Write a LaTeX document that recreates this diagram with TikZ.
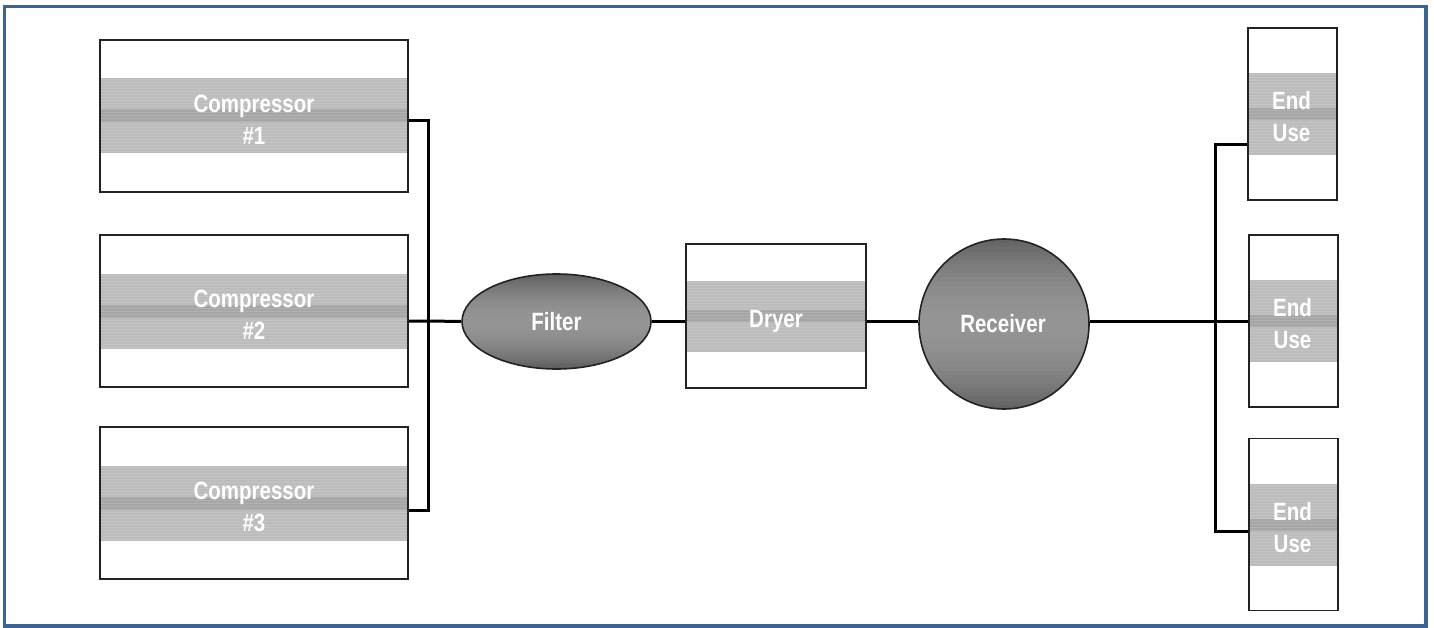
\documentclass[tikz,border=0pt]{standalone}
\usepackage{fontspec}
\newfontfamily\lblfont{Liberation Sans}[FakeStretch=0.82]
\usetikzlibrary{shapes.geometric,calc}
\definecolor{frameblue}{HTML}{3B6496}
\definecolor{bandgray}{HTML}{BCBCBC}
\definecolor{stripgray}{HTML}{A6A6A6}
\definecolor{edgegray}{HTML}{222222}
\begin{document}
\begin{tikzpicture}[x=1pt,y=-1pt,
  lbl/.style={text=white, font=\lblfont\bfseries\fontsize{25}{32}\selectfont, align=center},
  unitbox/.style n args={4}{draw=edgegray, line width=1.6pt, inner sep=0pt,
     minimum width=#1, minimum height=#2,
     path picture={
       \fill[bandgray] ([yshift=#3]path picture bounding box.west) rectangle ([yshift=-#3]path picture bounding box.east);
       \fill[stripgray] ([yshift=#4]path picture bounding box.west) rectangle ([yshift=-#4]path picture bounding box.east);
       \pgfmathtruncatemacro{\nn}{floor(2*#3/3)}
       \foreach \k in {1,...,\nn}{
         \pgfmathsetmacro{\ys}{#3-3*\k+1.5}
         \draw[white, opacity=0.13, line width=1pt]
           ([yshift=\ys pt]path picture bounding box.west) -- ([yshift=\ys pt]path picture bounding box.east);
       }
     }},
  compbox/.style={unitbox={308pt}{152pt}{37.5pt}{6.5pt}},
  usebox/.style={unitbox={89pt}{172pt}{41pt}{6pt}},
  dryerbox/.style={unitbox={180pt}{144pt}{35.5pt}{6pt}},
  % vertical gray gradient: #1 = light level (black!), #2 = extra darkness at the edges
  metal/.style 2 args={draw=edgegray, line width=1.6pt,
     path picture={
       \foreach \i in {0,...,39}{
         \pgfmathsetmacro{\ta}{\i/40}
         \pgfmathsetmacro{\tb}{(\i+1)/40+0.002}
         \pgfmathsetmacro{\pp}{#1+#2*abs(2*(\i+0.5)/40-1)^2}
         \fill[black!\pp]
           ($(path picture bounding box.north west)!\ta!(path picture bounding box.south west)$)
           rectangle
           ($(path picture bounding box.north east)!\tb!(path picture bounding box.south east)$);
       }
     }},
  pipe/.style={draw=black, line width=3pt},
]
\useasboundingbox (0,0) rectangle (1434,628);
\draw[frameblue, line width=3.5pt] (4.5,6.5) rectangle (1426,626);

% compressors
\node[compbox] (c1) at (254,116) {};
\node[compbox] (c2) at (254,311) {};
\node[compbox] (c3) at (254,503) {};
\node[lbl] at (254,120) {Compressor\\\#1};
\node[lbl] at (254,315) {Compressor\\\#2};
\node[lbl] at (254,507) {Compressor\\\#3};

% filter
\node[ellipse, metal={42}{22}, minimum width=189pt, minimum height=95pt] (filter) at (556.5,321.5) {};
\node[lbl] at (filter.center) {Filter};

% dryer
\node[dryerbox] (dryer) at (776,316) {};
\node[lbl] at (776,321) {Dryer};

% receiver
\node[circle, metal={42}{20}, minimum size=170pt] (recv) at (1004,324) {};
\node[lbl] at (1003,324) {Receiver};

% end uses
\node[usebox] (e1) at (1292.5,114) {};
\node[usebox] (e2) at (1293.5,321) {};
\node[usebox] (e3) at (1293.5,524.5) {};
\node[lbl] at (1291.5,117) {End\\Use};
\node[lbl] at (1292.5,324) {End\\Use};
\node[lbl] at (1292.5,528) {End\\Use};

% bus coordinates
\coordinate (b1) at (428,121);
\coordinate (b2) at (428,321);
\coordinate (b3) at (428,510);
\coordinate (r1) at (1215,145);
\coordinate (r2) at (1215,321);
\coordinate (r3) at (1215,531);

\draw[pipe] (c1.east |- b1) -- (b1) -- (b3) -- (c3.east |- b3);
\draw[pipe] (c2.east |- b2) -- (b2) -- (filter.west);
\draw[pipe] (filter.east) -- (dryer.west |- filter.east);
\draw[pipe] (dryer.east |- filter.east) -- (recv.west |- filter.east);
\draw[pipe] (recv.east |- r2) -- (r2);
\draw[pipe] (e1.west |- r1) -- (r1) -- (r3) -- (e3.west |- r3);
\draw[pipe] (r2) -- (e2.west |- r2);
\end{tikzpicture}
\end{document}
